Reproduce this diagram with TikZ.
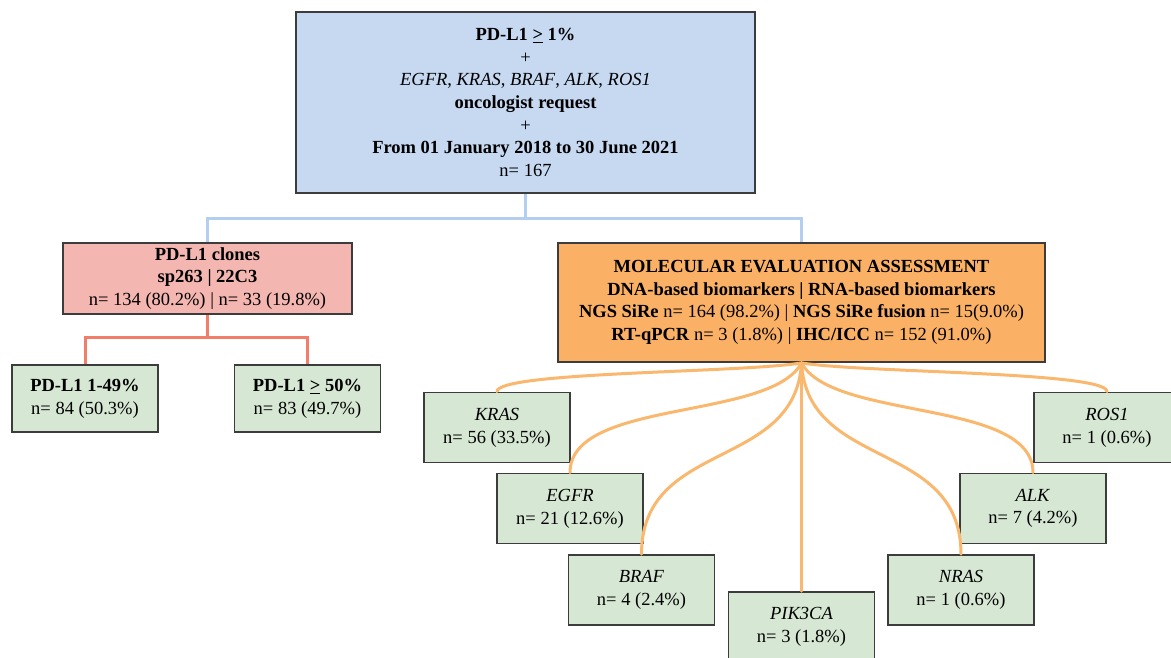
\documentclass[tikz,border=0pt]{standalone}
\usepackage{fontspec}
\setmainfont{Liberation Serif}
\definecolor{boxline}{RGB}{60,60,60}
\definecolor{topfill}{RGB}{198,217,241}
\definecolor{topline}{RGB}{180,206,240}
\definecolor{redfill}{RGB}{244,182,176}
\definecolor{redline}{RGB}{242,125,105}
\definecolor{orfill}{RGB}{251,177,101}
\definecolor{orline}{RGB}{249,184,110}
\definecolor{genefill}{RGB}{214,232,212}
\begin{document}
\begin{tikzpicture}[x=1pt,y=-1pt,
  box/.style={draw=boxline, line width=1.8pt, align=center, inner sep=0pt,
    font=\fontsize{18.5}{22.7}\selectfont},
  gene/.style={box, fill=genefill, minimum width=146pt, minimum height=70pt},
  pdbox/.style={box, fill=genefill, minimum width=146pt, minimum height=67pt},
  bluelink/.style={draw=topline, line width=3pt},
  redlink/.style={draw=redline, line width=3pt},
  orlink/.style={draw=orline, line width=3pt, line cap=round}]
\useasboundingbox (0,0) rectangle (1171,657);
\fill[white] (0,0) rectangle (1171,657);

\node[box, fill=topfill, minimum width=459pt, minimum height=181pt] (top) at (525.5,102.5)
  {\textbf{PD-L1 \underline{>} 1\%}\\+\\\textit{EGFR}, \textit{KRAS}, \textit{BRAF}, \textit{ALK}, \textit{ROS1}\\\textbf{oncologist request}\\+\\\textbf{From 01 January 2018 to 30 June 2021}\\n= 167};

\node[box, fill=redfill, minimum width=289pt, minimum height=71pt] (clones) at (207.5,278.5)
  {\textbf{PD-L1 clones}\\\textbf{sp263 | 22C3}\\n= 134 (80.2\%) | n= 33 (19.8\%)};

\node[pdbox] (p149) at (85,398.5) {\textbf{PD-L1 1-49\%}\\n= 84 (50.3\%)};
\node[pdbox] (p50) at (307.5,398.5) {\textbf{PD-L1 \underline{>} 50\%}\\n= 83 (49.7\%)};

\node[box, fill=orfill, minimum width=487pt, minimum height=119pt] (mol) at (801.5,302.5)
  {\textbf{MOLECULAR EVALUATION ASSESSMENT}\\\textbf{DNA-based biomarkers | RNA-based biomarkers}\\\textbf{NGS SiRe} n= 164 (98.2\%) | \textbf{NGS SiRe fusion} n= 15(9.0\%)\\\textbf{RT-qPCR} n= 3 (1.8\%) | \textbf{IHC/ICC} n= 152 (91.0\%)};

\node[gene] (kras) at (497,427.5) {\textit{KRAS}\\n= 56 (33.5\%)};
\node[gene] (egfr) at (570,508.5) {\textit{EGFR}\\n= 21 (12.6\%)};
\node[gene] (braf) at (641.5,590) {\textit{BRAF}\\n= 4 (2.4\%)};
\node[gene] (pik) at (801.5,627) {\textit{PIK3CA}\\n= 3 (1.8\%)};
\node[gene] (nras) at (961,590) {\textit{NRAS}\\n= 1 (0.6\%)};
\node[gene] (alk) at (1033,508.5) {\textit{ALK}\\n= 7 (4.2\%)};
\node[gene] (ros) at (1107,427.5) {\textit{ROS1}\\n= 1 (0.6\%)};

\draw[bluelink] (top.south) -- ++(0,25) -| (clones.north);
\draw[bluelink] (top.south) -- ++(0,25) -| (mol.north);
\draw[redlink] (clones.south) -- ++(0,23) -| (p149.north);
\draw[redlink] (clones.south) -- ++(0,23) -| (p50.north);

\coordinate (hub) at (mol.south);
\draw[orlink] (hub) .. controls +(-61,10) and +(0,-20) .. (kras.north);
\draw[orlink] (hub) .. controls +(61,10) and +(0,-20) .. (ros.north);
\draw[orlink] (hub) .. controls +(-31,58) and +(0,-74) .. (egfr.north);
\draw[orlink] (hub) .. controls +(31,58) and +(0,-74) .. (alk.north);
\draw[orlink] (hub) .. controls +(-6,108) and +(0,-115) .. (braf.north);
\draw[orlink] (hub) .. controls +(6,108) and +(0,-115) .. (nras.north);
\draw[orlink] (hub) -- (pik.north);
\end{tikzpicture}
\end{document}
